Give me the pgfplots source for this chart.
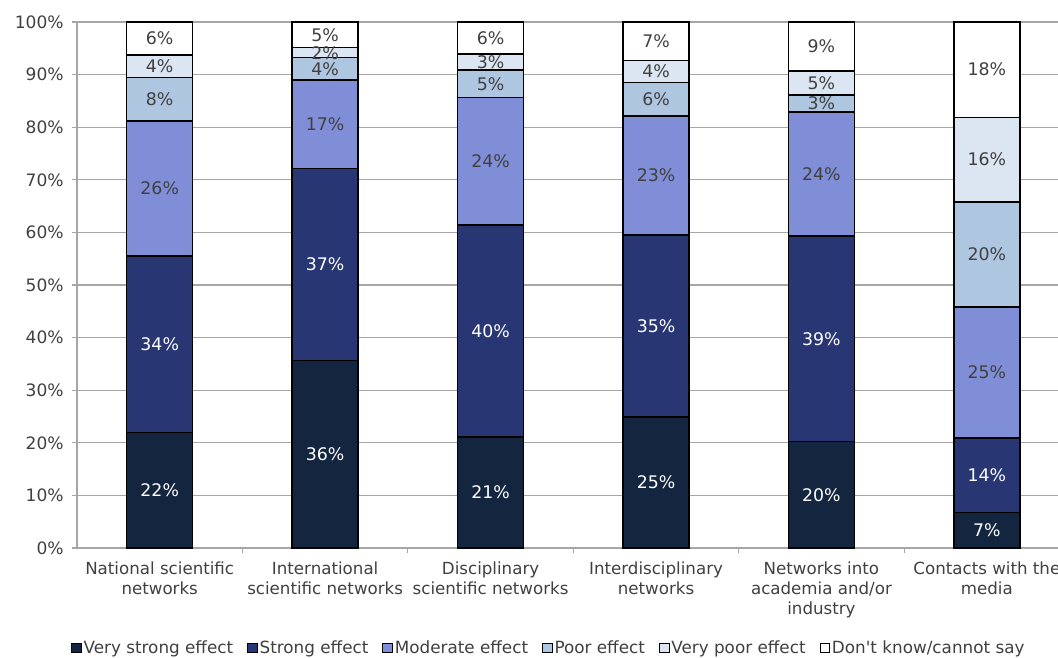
\documentclass[border=0pt]{standalone}
\usepackage{pgfplots}
\pgfplotsset{compat=1.18}
\usepackage{pgfplotstable}
\usepackage{fontspec}
\setmainfont{DejaVu Sans}
\definecolor{cvs}{HTML}{13253F}
\definecolor{cs}{HTML}{283674}
\definecolor{cm}{HTML}{7F8ED6}
\definecolor{cp}{HTML}{AFC6E0}
\definecolor{cvp}{HTML}{DCE5F2}
\definecolor{cdk}{HTML}{FFFFFF}
\definecolor{txt}{HTML}{404040}
\definecolor{gridc}{HTML}{A6A6A6}

\pgfplotstableread{
x vs s m p vp dk
0 21.9 33.6 25.7 8.2 4.3 6.3
1 35.6 36.6 16.8 4.2 1.9 4.9
2 21.1 40.3 24.2 5.3 3.0 6.1
3 24.9 34.6 22.6 6.4 4.2 7.3
4 20.2 39.1 23.6 3.2 4.6 9.3
5 6.7 14.2 24.9 20.0 16.1 18.1
}\data

\begin{document}
\begin{tikzpicture}
\begin{axis}[
  name=ax,
  scale only axis,
  width=735.75pt, height=394.5pt,
  ybar stacked,
  bar width=49.5pt,
  xmin=-0.5, xmax=5.43,
  ymin=0, ymax=100,
  axis x line*=bottom, axis y line*=left,
  axis line style={draw=gridc, line width=0.9pt},
  xtick={0,1,2,3,4,5},
  xticklabels={National scientific\\networks, International\\scientific networks, Disciplinary\\scientific networks, Interdisciplinary\\networks, Networks into\\academia and/or\\industry, Contacts with the\\media},
  xticklabel style={align=center, font=\fontsize{12.5}{15}\selectfont, text=txt, yshift=-2.5pt},
  major x tick style={draw=none},
  minor xtick={0.5,1.5,2.5,3.5,4.5},
  minor x tick style={draw=gridc, line width=0.9pt},
  minor tick length=4pt,
  major tick length=4pt,
  tick align=outside,
  ytick={0,10,...,100},
  yticklabel={\pgfmathprintnumber{\tick}\%},
  yticklabel style={font=\fontsize{12.8}{15}\selectfont, text=txt, xshift=-2.5pt},
  major y tick style={draw=gridc, line width=0.9pt},
  /pgf/number format/assume math mode=true,
  ymajorgrids,
  grid style={draw=gridc, line width=0.9pt},
  point meta=explicit,
  nodes near coords={\pgfmathprintnumber[fixed,precision=0]{\pgfplotspointmeta}\%},
  every node near coord/.style={anchor=center, font=\fontsize{13}{15}\selectfont, text=txt},
  legend style={draw=none, at={(0.481,-0.19)}, anchor=center, legend columns=6,
    font=\fontsize{12.6}{14}\selectfont, text=txt,
    /tikz/every even column/.append style={column sep=9pt},
    nodes={inner sep=1.5pt}},
  legend image code/.code={\draw[#1, draw=black, line width=0.6pt] (0pt,-3.6pt) rectangle (7.2pt,3.6pt);},
  every axis plot/.append style={draw=black, line width=1pt},
]
\addplot[fill=cvs, every node near coord/.append style={text=white}] table[x=x, y=vs, meta=vs] {\data};
\addplot[fill=cs, every node near coord/.append style={text=white}] table[x=x, y=s, meta=s] {\data};
\addplot[fill=cm] table[x=x, y=m, meta=m] {\data};
\addplot[fill=cp] table[x=x, y=p, meta=p] {\data};
\addplot[fill=cvp] table[x=x, y=vp, meta=vp] {\data};
\addplot[fill=cdk] table[x=x, y=dk, meta=dk] {\data};
\legend{Very strong effect, Strong effect, Moderate effect, Poor effect, Very poor effect, Don\textquotesingle t know/cannot say}
\end{axis}
\pgfresetboundingbox
\useasboundingbox ([xshift=-57.75pt,yshift=16.5pt]ax.north west) rectangle ([yshift=-81.75pt]ax.south east);
\end{tikzpicture}
\end{document}
